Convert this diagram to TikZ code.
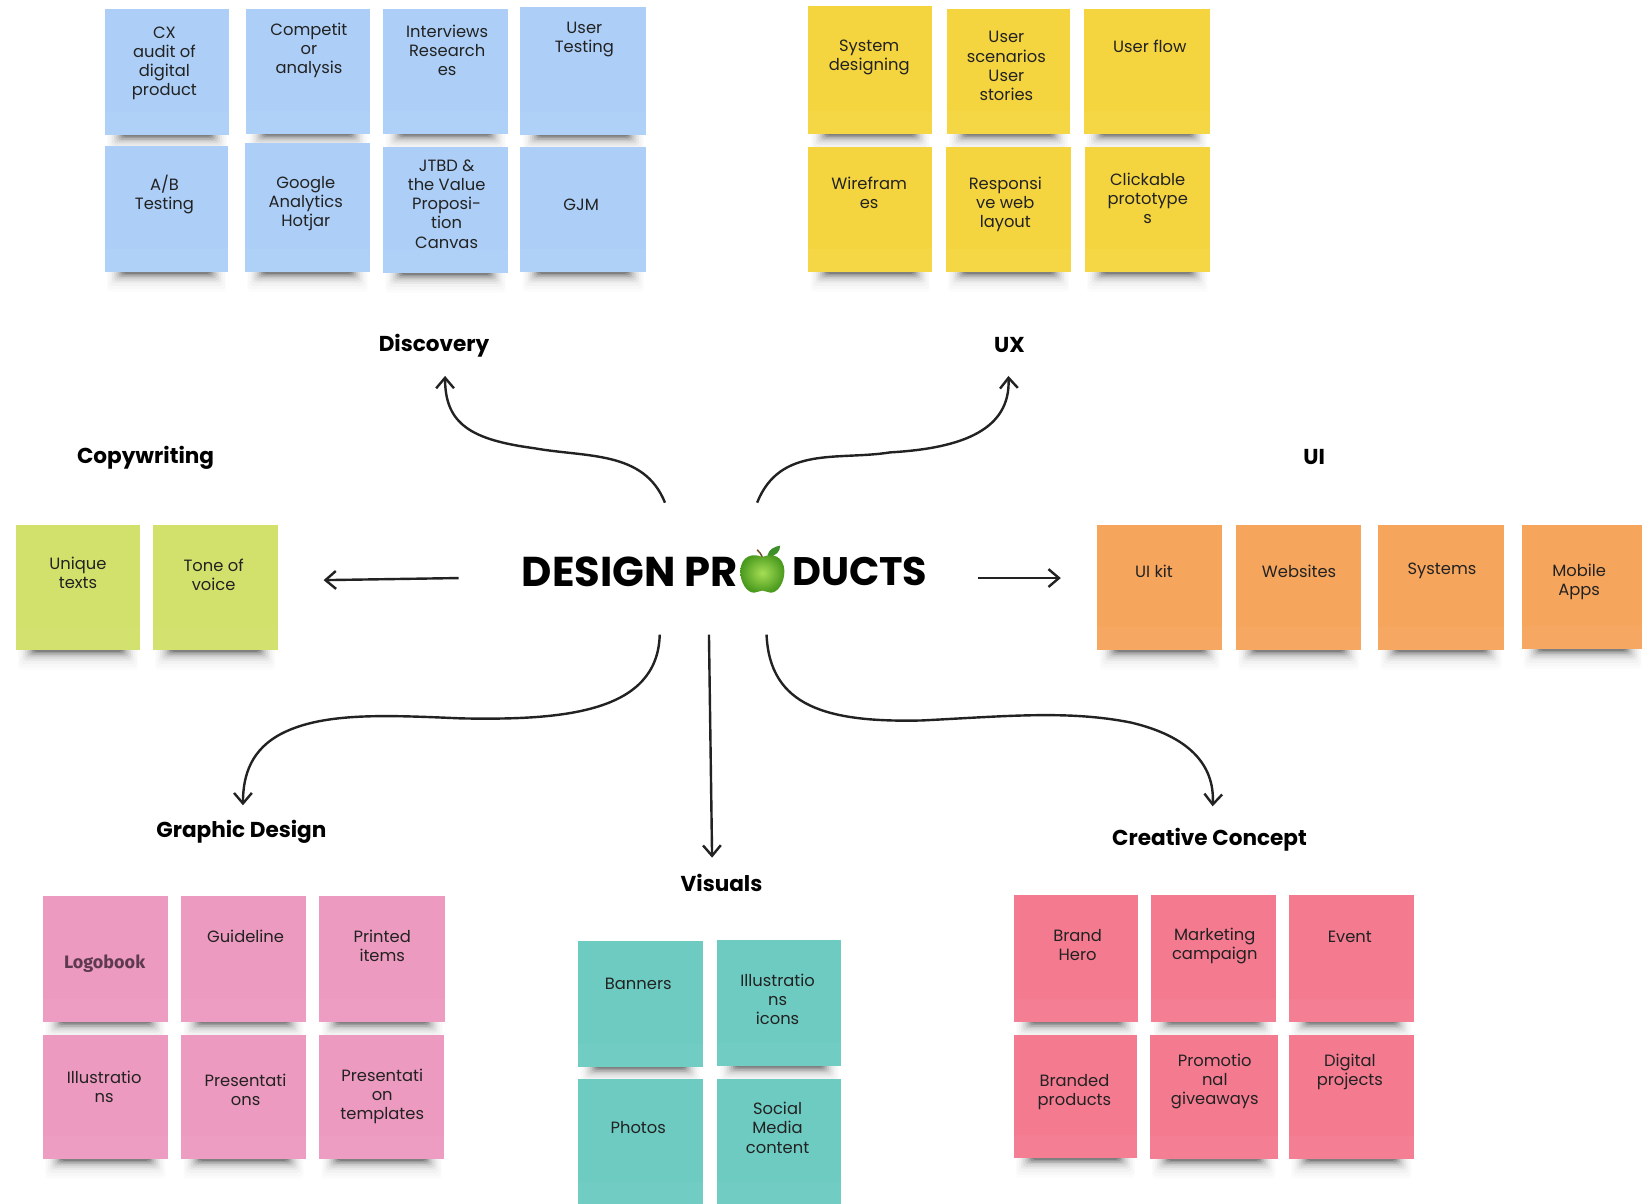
\documentclass[tikz,border=0pt]{standalone}
\usepackage{fontspec}
\setmainfont{Poppins}
\newfontfamily\logofont{Fira Sans}
\usetikzlibrary{arrows.meta}
\definecolor{noteblue}{HTML}{ADCFF7}
\definecolor{noteyellow}{HTML}{F5D53F}
\definecolor{notegreen}{HTML}{D2E16B}
\definecolor{noteorange}{HTML}{F6A55D}
\definecolor{notepink}{HTML}{EC9ABF}
\definecolor{noteteal}{HTML}{6DCBC2}
\definecolor{notered}{HTML}{F47A90}
\definecolor{ink}{HTML}{222222}
\definecolor{applelight}{HTML}{A6DE55}
\definecolor{appledark}{HTML}{4A9A1E}
\definecolor{appleleaf}{HTML}{3E8E2A}
\tikzset{
 notetext/.style={font=\fontsize{7.8}{9.1}\selectfont,align=center,text=ink,inner sep=0pt},
 grouplabel/.style={font=\fontsize{10.3}{12}\selectfont\bfseries,text=black,inner sep=0pt},
 titletext/.style={text=black,inner sep=0pt},
 flow/.style={line width=1.15pt,draw=ink,-{Straight Barb[length=5pt,width=8.5pt,line width=1.15pt]}},
}
\newcommand{\stickynote}[9]{%
  % name, x0,y0,x1,y1, colour, cx,cy, text
  \foreach \d/\ins/\op in {1.5/17/.17,3/15/.14,4.5/13/.10,6/11/.08,8/9/.06,10/7/.04,13/5/.025,16/3/.015,19/2/.01}{
    \pgfmathsetmacro{\ya}{#5-2}\pgfmathsetmacro{\yb}{#5+\d}
    \pgfmathsetmacro{\xa}{#2+\ins}\pgfmathsetmacro{\xb}{#4-\ins}
    \fill[black,opacity=\op,rounded corners=1.5pt] (\xa,\ya) rectangle (\xb,\yb);
  }
  \fill[#6] (#2,#3) rectangle (#4,#5);
  \pgfmathsetmacro{\yc}{#5-22}
  \fill[white,opacity=.03] (#2,\yc) rectangle (#4,#5);
  \node[notetext] (#1) at (#7,#8) {#9};
}
\begin{document}
\begin{tikzpicture}[x=0.5pt,y=-0.5pt]
\useasboundingbox (0,0) rectangle (1568,1148.8);
\clip (0,0) rectangle (1568,1148.8);
% Discovery
\stickynote{cx}{100}{9}{219}{129}{noteblue}{157}{60.5}{CX\\audit of\\digital\\product}
\stickynote{comp}{235}{9}{353}{128}{noteblue}{295}{48}{Competit\\or\\analysis}
\stickynote{intv}{366}{9}{485}{128}{noteblue}{427}{48.5}{Interviews\\Research\\es}
\stickynote{utest}{497}{7}{617}{129}{noteblue}{558}{38}{User\\Testing}
\stickynote{ab}{100}{139}{218}{260}{noteblue}{157}{185.5}{A/B\\Testing}
\stickynote{ga}{234}{137}{353}{260}{noteblue}{292}{194.5}{Google\\Analytics\\Hotjar}
\stickynote{jtbd}{366}{140}{485}{261}{noteblue}{426.5}{195}{JTBD \&\\the Value\\Proposi-\\tion\\Canvas}
\stickynote{gjm}{497}{140}{617}{260}{noteblue}{555}{196}{GJM}
% UX
\stickynote{sysd}{772}{6}{890}{128}{noteyellow}{830}{55}{System\\designing}
\stickynote{usc}{904}{9}{1022}{128}{noteyellow}{961}{63}{User\\scenarios\\User\\stories}
\stickynote{uflow}{1035}{9}{1155}{128}{noteyellow}{1098}{44}{User flow}
\stickynote{wire}{772}{140}{890}{260}{noteyellow}{830}{184}{Wirefram\\es}
\stickynote{resp}{903}{140}{1023}{260}{noteyellow}{960}{195}{Responsi\\ve web\\layout}
\stickynote{click}{1036}{140}{1155}{260}{noteyellow}{1096}{189.5}{Clickable\\prototype\\s}
% Copywriting
\stickynote{uniq}{15}{501}{134}{621}{notegreen}{74.5}{547}{Unique\\texts}
\stickynote{tone}{146}{501}{265}{621}{notegreen}{204}{549}{Tone of\\voice}
% UI
\stickynote{uikit}{1048}{501}{1167}{621}{noteorange}{1102}{546}{UI kit}
\stickynote{webs}{1180}{501}{1300}{621}{noteorange}{1240.5}{546}{Websites}
\stickynote{syst}{1316}{501}{1436}{621}{noteorange}{1377}{545}{Systems}
\stickynote{mobile}{1453}{501}{1570}{620}{noteorange}{1508}{556}{Mobile\\Apps}
% Graphic design
\stickynote{logo}{41}{856}{160}{976}{notepink}{100}{920}{{\logofont\fontsize{8.6}{10}\selectfont\color[HTML]{5E3A50}\textbf{Logobook}}}
\stickynote{guide}{173}{856}{292}{976}{notepink}{234.5}{894}{Guideline}
\stickynote{print}{305}{856}{425}{976}{notepink}{365}{903}{Printed\\items}
\stickynote{illu}{41}{988}{160}{1107}{notepink}{99.5}{1038}{Illustratio\\ns}
\stickynote{pres}{173}{988}{292}{1107}{notepink}{234.5}{1041}{Presentati\\ons}
\stickynote{ptem}{305}{988}{424}{1107}{notepink}{365}{1047}{Presentati\\on\\templates}
% Visuals
\stickynote{bann}{552}{899}{671}{1019}{noteteal}{609.5}{940}{Banners}
\stickynote{iicon}{685}{898}{803}{1018}{noteteal}{742.5}{954.5}{Illustratio\\ns\\icons}
\stickynote{phot}{552}{1030}{671}{1151}{noteteal}{609.5}{1077}{Photos}
\stickynote{soc}{685}{1030}{803}{1151}{noteteal}{742.5}{1077}{Social\\Media\\content}
% Creative concept
\stickynote{brand}{968}{855}{1087}{976}{notered}{1029}{902}{Brand\\Hero}
\stickynote{mark}{1099}{855}{1218}{976}{notered}{1160}{903.5}{Marketing\\campaign}
\stickynote{event}{1231}{855}{1350}{976}{notered}{1289}{895}{Event}
\stickynote{bprod}{968}{988}{1086}{1106}{notered}{1026}{1043}{Branded\\products}
\stickynote{promo}{1098}{988}{1220}{1107}{notered}{1160}{1033}{Promotio\\nal\\giveaways}
\stickynote{digi}{1231}{988}{1350}{1107}{notered}{1289}{1024}{Digital\\projects}
% Labels
\node[grouplabel] (lDiscovery) at (414.5,330) {Discovery};
\node[grouplabel] (lUX) at (964,329) {UX};
\node[grouplabel] (lCopy) at (139,437) {Copywriting};
\node[grouplabel] (lUI) at (1255,436) {UI};
\node[grouplabel] (lGraphic) at (230.5,794) {Graphic Design};
\node[grouplabel] (lVisuals) at (689,843) {Visuals};
\node[grouplabel] (lCreative) at (1155,802) {Creative Concept};
% Title
\node[titletext,anchor=east,font=\fontsize{19.9}{24}\selectfont\bfseries] (titleA) at (705,546) {DESIGN PR};
\node[titletext,anchor=west,font=\fontsize{19}{24}\selectfont\bfseries] (titleB) at (756,546) {DUCTS};
% Apple
\fill[appleleaf] (733,530) .. controls (734,525) and (739,522) .. (745,521) .. controls (745,527) and (741,531) .. (733,532) -- cycle;
\draw[line width=.7pt,draw=brown!60!black] (728,532) .. controls (727,529) and (725,527) .. (723,525);
\shade[inner color=applelight,outer color=appledark,shading=radial]
  (728,532) .. controls (736,528) and (749,530) .. (749,546)
  .. controls (749,556) and (743,566) .. (736,566)
  .. controls (733,566) and (731,564) .. (728,564)
  .. controls (725,564) and (723,566) .. (720,566)
  .. controls (713,566) and (707,556) .. (707,546)
  .. controls (707,530) and (720,528) .. (728,532) -- cycle;
% Connectors
\coordinate (sDisc) at (635,480); \coordinate (eDisc) at (425,359);
\coordinate (sUX) at (723,480); \coordinate (eUX) at (963,359);
\coordinate (sCopy) at (438,552); \coordinate (eCopy) at (309,554);
\coordinate (sUI) at (934,552); \coordinate (eUI) at (1013,552);
\coordinate (sGraph) at (630,606); \coordinate (eGraph) at (232,769);
\coordinate (sVis) at (677,606); \coordinate (eVis) at (680,819);
\coordinate (sCre) at (732,606); \coordinate (eCre) at (1158,770);
\draw[flow] (sDisc) .. controls (615,430) and (560,437) .. (510,428) .. controls (450,420) and (425,405) .. (eDisc);
\draw[flow] (sUX) .. controls (745,425) and (800,440) .. (850,432) .. controls (920,428) and (965,410) .. (eUX);
\draw[flow] (sCopy) -- (eCopy);
\draw[flow] (sUI) -- (eUI);
\draw[flow] (sGraph) .. controls (628,680) and (540,688) .. (440,686) .. controls (370,683) and (310,680) .. (270,700) .. controls (240,715) and (232,740) .. (eGraph);
\draw[flow] (sVis) -- (eVis);
\draw[flow] (sCre) .. controls (735,675) and (790,690) .. (880,688) .. controls (960,684) and (1020,678) .. (1080,690) .. controls (1135,703) and (1160,730) .. (eCre);
\end{tikzpicture}
\end{document}
